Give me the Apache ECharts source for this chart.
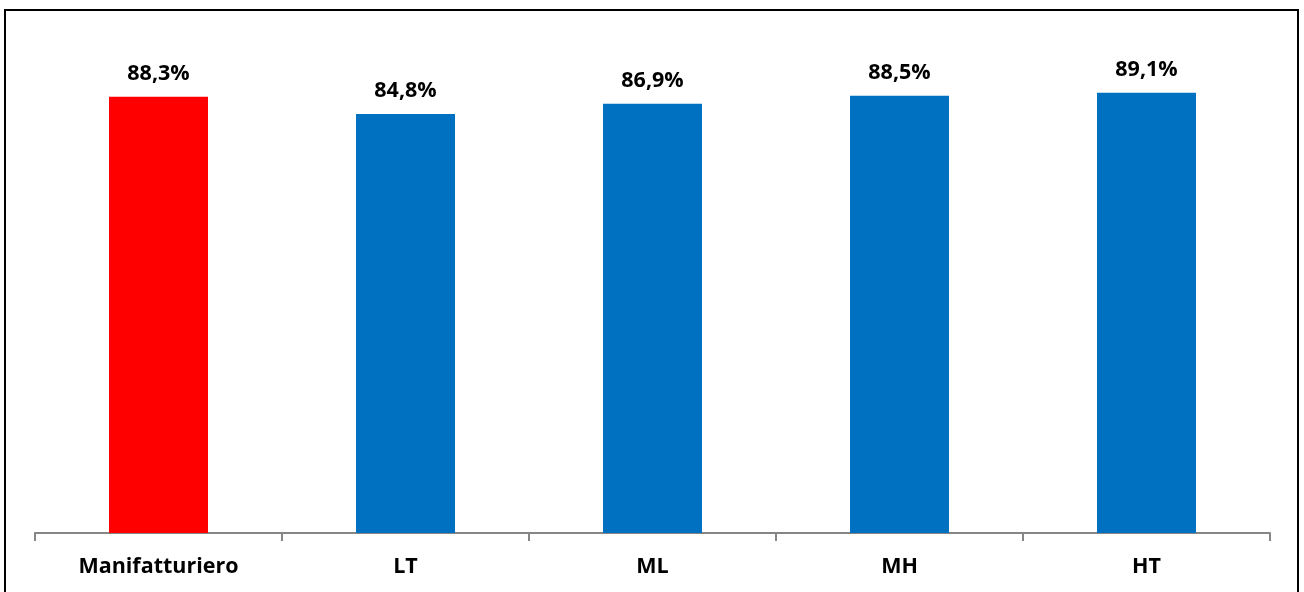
<!DOCTYPE html>
<html>
<head>
    <meta charset="UTF-8"/>
    <title>echart</title>
    <script type="text/javascript" src="https://cdn.jsdelivr.net/npm/echarts@6/dist/echarts.min.js"></script>
    <style>
        html, body { margin: 0; padding: 0; background: #fff; }
        #main { width: 1304px; height: 592px; }
    </style>
</head>
<body>
<div id="main"></div>
<script>
    // categorie e valori (%)
    var categories = ['Manifatturiero', 'LT', 'ML', 'MH', 'HT'];
    var values = [88.3, 84.8, 86.9, 88.5, 89.1];
    var barColors = ['#FF0000', '#0070C0', '#0070C0', '#0070C0', '#0070C0'];

    var font = 'Open Sans';
    var chart = echarts.init(document.getElementById('main'));
    var option = {
        animation: false,
        graphic: [{
            type: 'rect',
            shape: { x: 5, y: 10, width: 1293, height: 600 },
            style: { fill: 'none', stroke: '#000', lineWidth: 2 }
        }],
        grid: { left: 35, right: 34, top: 39, bottom: 59 },
        xAxis: {
            type: 'category',
            data: categories,
            axisLine: { lineStyle: { color: '#868686', width: 2 } },
            axisTick: { show: true, length: 8, lineStyle: { color: '#868686', width: 2 } },
            axisLabel: { color: '#000', fontWeight: 'bold', fontSize: 21.5, fontFamily: font, margin: 23 }
        },
        yAxis: {
            type: 'value',
            min: 0,
            max: 100,
            show: false,
            splitLine: { show: false }
        },
        series: [{
            type: 'bar',
            barWidth: 99,
            data: values.map(function (v, i) {
                return { value: v, itemStyle: { color: barColors[i] } };
            }),
            label: {
                show: true,
                position: 'top',
                distance: 12,
                color: '#000',
                fontWeight: 'bold',
                fontSize: 21.5,
                fontFamily: font,
                formatter: function (p) {
                    return p.value.toFixed(1).replace('.', ',') + '%';
                }
            }
        }]
    };
    chart.setOption(option);
</script>
</body>
</html>
